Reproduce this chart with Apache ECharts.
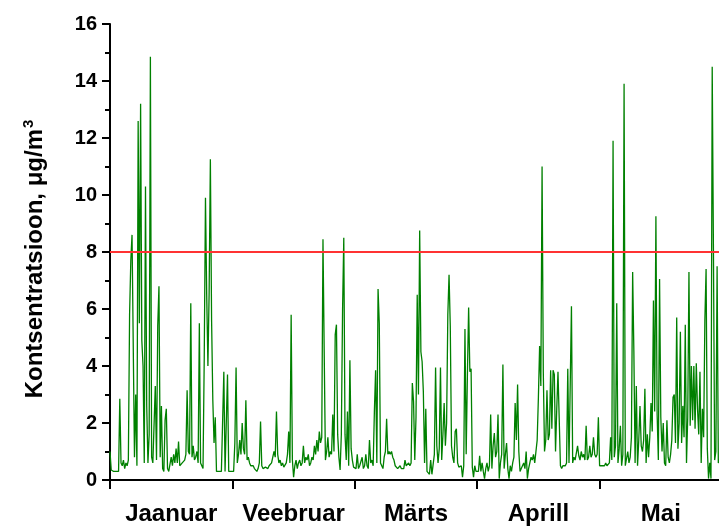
<!DOCTYPE html>
<html>
<head>
<meta charset="utf-8">
<script src="https://cdn.jsdelivr.net/npm/echarts@6/dist/echarts.min.js"></script>
<style>
  html, body { margin: 0; padding: 0; background: #fff; }
  #chart { width: 719px; height: 527px; }
</style>
</head>
<body>
<div id="chart"></div>
<script>
// Month names shown under the x axis
const months = ['Jaanuar', 'Veebruar', 'Märts', 'Aprill', 'Mai'];

// Concentration readings (µg/m³), 100 evenly spaced readings per month
const jaanuar = [
  1.0, 0.35, 0.3, 0.3, 0.25, 0.3, 0.25, 0.3, 2.85, 0.6,
  0.5, 0.7, 0.4, 0.6, 0.5, 0.7, 5.8, 7.7, 8.6, 8.6,
  0.8, 3.0, 0.5, 12.6, 5.5, 13.2, 4.9, 4.0, 0.6, 10.3,
  2.6, 0.6, 1.6, 14.85, 0.8, 0.6, 0.6, 3.3, 0.7, 5.4,
  6.8, 0.8, 2.6, 0.4, 0.3, 2.1, 2.5, 0.4, 0.3, 0.3,
  0.8, 0.5, 0.9, 0.6, 1.1, 0.6, 1.35, 0.5, 0.55, 0.6,
  0.55, 0.7, 0.9, 3.15, 1.0, 0.9, 6.2, 0.8, 1.2, 0.7,
  0.8, 1.0, 0.6, 5.5, 0.6, 0.5, 0.4, 4.3, 9.9, 6.5,
  4.0, 6.6, 11.25, 5.6, 2.8, 1.3, 2.2, 0.3, 0.25, 0.3,
  0.25, 0.3, 0.3, 3.8, 0.3, 0.35, 3.7, 0.3, 0.25, 0.3
];
const veebruar = [
  0.3, 0.3, 1.3, 3.95, 0.6, 0.9, 1.4, 0.9, 2.0, 1.1,
  0.9, 2.8, 0.7, 0.8, 0.6, 0.5, 0.45, 0.5, 0.4, 0.35,
  0.3, 0.4, 0.6, 2.05, 0.5, 0.4, 0.35, 0.45, 0.4, 0.4,
  0.5, 0.45, 0.6, 0.8, 1.0, 0.8, 2.4, 0.9, 0.6, 0.7,
  0.5, 0.6, 0.45, 0.5, 0.6, 0.9, 1.7, 0.6, 5.8, 0.7,
  0.1, 0.5, 0.7, 0.4, 0.6, 0.7, 0.5, 0.6, 1.2, 0.6,
  0.8, 0.7, 0.9, 0.5, 0.6, 0.8, 0.7, 1.2, 0.9, 1.4,
  1.0, 1.7, 1.3, 1.5, 8.45, 4.5, 0.7, 1.0, 1.5, 0.8,
  1.0, 0.9, 2.3, 1.0, 5.1, 5.45, 1.6, 0.8, 0.35, 1.6,
  5.95, 8.5, 1.6, 0.7, 2.4, 0.5, 4.2, 1.1, 0.7, 0.45
];
const marts = [
  0.5, 0.4, 0.9, 0.4, 0.5, 0.45, 0.8, 0.4, 0.5, 0.9,
  0.5, 0.4, 1.4, 0.6, 0.7, 0.5, 2.4, 3.85, 0.6, 6.7,
  5.5, 0.6, 0.5, 0.4, 0.8, 1.0, 2.15, 0.9, 1.0, 0.9,
  1.0, 0.8, 0.7, 0.5, 0.45, 0.4, 0.35, 0.5, 0.4, 0.45,
  0.4, 0.7, 0.5, 0.45, 0.6, 0.5, 0.6, 3.4, 2.75, 0.7,
  2.2, 6.5, 3.0, 8.75, 4.5, 4.15, 3.1, 0.6, 2.5, 0.3,
  0.25, 0.2, 0.7, 0.2, 0.25, 0.9, 3.95, 1.2, 0.6, 1.1,
  3.95, 0.7, 1.6, 2.7, 1.2, 2.0, 5.8, 7.2, 5.4, 1.2,
  0.8, 0.6, 1.7, 1.8, 0.6, 0.45, 0.4, 0.5, 0.1, 0.5,
  5.3, 0.9, 3.7, 6.05, 3.8, 3.9, 0.45, 0.1, 0.5, 0.3
];
const aprill = [
  0.3, 0.3, 0.85, 0.3, 0.6, 0.3, 0.05, 0.4, 0.6, 0.3,
  0.5, 2.3, 0.4, 1.2, 1.65, 0.8, 1.0, 2.3, 0.05, 0.6,
  0.9, 4.05, 0.4, 0.9, 1.3, 0.4, 0.05, 0.5, 0.3, 0.6,
  0.8, 2.7, 1.4, 3.35, 1.0, 0.3, 0.4, 0.5, 0.6, 0.4,
  1.0, 0.05, 0.4, 0.6, 0.8, 0.7, 0.9, 0.6, 1.0, 1.4,
  2.9, 4.7, 3.3, 11.0, 3.8, 1.0, 1.4, 3.15, 1.4, 1.6,
  3.85, 1.8, 3.85, 3.7, 1.0, 2.5, 3.8, 3.8, 0.5, 0.4,
  0.5, 0.45, 0.5, 0.6, 3.9, 0.6, 0.6, 6.1, 0.6, 0.8,
  0.7, 0.7, 1.2, 0.85, 0.7, 1.0, 0.8, 0.9, 0.7, 1.9,
  0.7, 0.8, 1.2, 0.8, 0.9, 1.5, 0.9, 0.8, 0.9, 2.2
];
const mai = [
  0.5, 0.45, 0.5, 0.55, 0.5, 0.6, 0.5, 0.55, 0.6, 1.5,
  0.7, 11.9, 0.8, 1.2, 6.2, 0.6, 1.1, 1.9, 0.5, 0.9,
  13.9, 0.5, 0.55, 1.0, 0.6, 0.8, 1.5, 7.3, 4.5, 0.6,
  3.3, 0.5, 1.4, 2.6, 1.2, 1.0, 1.4, 3.2, 0.6, 1.6,
  0.8, 1.5, 2.7, 1.7, 6.3, 2.4, 9.25, 2.3, 0.7, 7.05,
  2.2, 1.0, 2.0, 0.6, 0.5, 2.1, 0.8, 0.6, 0.9, 1.4,
  2.9, 3.0, 1.3, 5.7, 1.1, 2.0, 5.2, 1.3, 2.6, 1.5,
  5.45, 0.6, 2.2, 7.3, 1.9, 4.0, 2.1, 4.0, 1.8, 4.1,
  2.5, 1.6, 3.8, 0.6, 2.5, 1.5, 5.6, 7.4, 1.1, 0.05,
  0.6, 0.05, 14.5, 8.1, 0.7, 1.0, 7.5, 0.6, 0.7, 0.65
];

// Limit value drawn as a horizontal reference line
const limitValue = 8;

// y axis ticks
const yMin = 0, yMax = 16, yStep = 2;

// Each month takes one unit on the x axis; readings are spread evenly inside it
const monthly = [jaanuar, veebruar, marts, aprill, mai];
const seriesData = [];
monthly.forEach((vals, m) => {
  vals.forEach((v, i) => seriesData.push([m + i / vals.length, v]));
});

const FONT = '"Liberation Sans", Arial, Helvetica, sans-serif';

const chart = echarts.init(document.getElementById('chart'), null, { renderer: 'canvas' });
chart.setOption({
  animation: false,
  backgroundColor: '#ffffff',
  grid: { left: 110, right: -3, top: 24, bottom: 47, containLabel: false, outerBoundsMode: 'none' },
  xAxis: [
    {
      type: 'value',
      min: 0,
      max: months.length,
      interval: 1,
      axisLine: { show: true, onZero: false, lineStyle: { color: '#000', width: 2 } },
      axisTick: { show: true, inside: false, length: 9, lineStyle: { color: '#000', width: 2 } },
      axisLabel: { show: false },
      splitLine: { show: false }
    },
    {
      type: 'category',
      data: months,
      position: 'bottom',
      boundaryGap: true,
      axisLine: { show: false },
      axisTick: { show: false },
      splitLine: { show: false },
      axisLabel: {
        show: true,
        interval: 0,
        margin: 22,
        color: '#000',
        fontFamily: FONT,
        fontWeight: 'bold',
        fontSize: 24
      }
    }
  ],
  yAxis: {
    type: 'value',
    min: yMin,
    max: yMax,
    interval: yStep,
    name: '{t|Kontsentratsioon, μg/m}{sup|3}',
    nameLocation: 'middle',
    nameRotate: 90,
    nameGap: 60,
    nameTextStyle: {
      padding: [0, 14, 0, 0],
      rich: {
        t: { fontFamily: FONT, fontWeight: 'bold', fontSize: 24, color: '#000' },
        sup: { fontFamily: FONT, fontWeight: 'bold', fontSize: 15, color: '#000', padding: [0, 0, 14, 1] }
      }
    },
    axisLine: { show: true, onZero: false, lineStyle: { color: '#000', width: 2 } },
    axisTick: { show: true, inside: false, length: 8, lineStyle: { color: '#000', width: 2 } },
    minorTick: { show: true, splitNumber: 2, length: 5, lineStyle: { color: '#000', width: 2 } },
    axisLabel: {
      margin: 13,
      color: '#000',
      fontFamily: FONT,
      fontWeight: 'bold',
      fontSize: 20
    },
    splitLine: { show: false }
  },
  series: [
    {
      type: 'line',
      xAxisIndex: 0,
      data: seriesData,
      showSymbol: false,
      symbol: 'none',
      lineStyle: { color: '#008000', width: 1.3 },
      itemStyle: { color: '#008000' },
      clip: true,
      markLine: {
        silent: true,
        symbol: ['none', 'none'],
        label: { show: false },
        lineStyle: { color: '#ff3333', width: 2, type: 'solid' },
        data: [{ yAxis: limitValue }]
      },
      z: 2
    }
  ]
});
</script>
</body>
</html>
